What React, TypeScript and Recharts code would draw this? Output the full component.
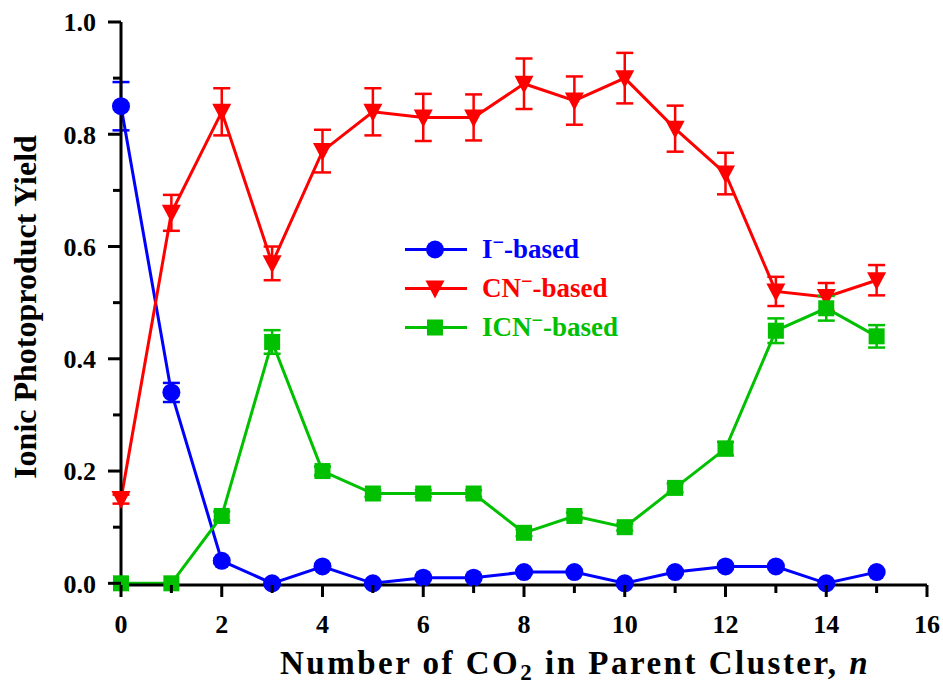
import { LineChart, Line, XAxis, YAxis, ErrorBar, Legend, Label } from "recharts";

const nValues = [0, 1, 2, 3, 4, 5, 6, 7, 8, 9, 10, 11, 12, 13, 14, 15];
const iBased = [0.85, 0.34, 0.04, 0.0, 0.03, 0.0, 0.01, 0.01, 0.02, 0.02, 0.0, 0.02, 0.03, 0.03, 0.0, 0.02];
const iErr = [0.043, 0.017, 0.004, 0.003, 0.004, 0.003, 0.003, 0.003, 0.003, 0.003, 0.003, 0.003, 0.003, 0.003, 0.003, 0.003];
const cnBased = [0.15, 0.66, 0.84, 0.57, 0.77, 0.84, 0.83, 0.83, 0.89, 0.86, 0.9, 0.81, 0.73, 0.52, 0.51, 0.54];
const cnErr = [0.008, 0.032, 0.042, 0.03, 0.038, 0.042, 0.042, 0.041, 0.045, 0.043, 0.045, 0.041, 0.037, 0.026, 0.025, 0.027];
const icnBased = [0, 0, 0.12, 0.43, 0.2, 0.16, 0.16, 0.16, 0.09, 0.12, 0.1, 0.17, 0.24, 0.45, 0.49, 0.44];
const icnErr = [0, 0, 0.008, 0.021, 0.008, 0.006, 0.006, 0.006, 0.006, 0.006, 0.006, 0.008, 0.012, 0.022, 0.022, 0.02];

const xTicks = [0, 1, 2, 3, 4, 5, 6, 7, 8, 9, 10, 11, 12, 13, 14, 15, 16];
const yTicks = [0, 0.1, 0.2, 0.3, 0.4, 0.5, 0.6, 0.7, 0.8, 0.9, 1.0];

const BLUE = "#0000ff";
const RED = "#ff0000";
const GREEN = "#00c000";
const FONT = '"Liberation Serif", "Times New Roman", serif';

const data = nValues.map((n, i) => ({
  n,
  iBased: iBased[i],
  iErr: iErr[i],
  cnBased: cnBased[i],
  cnErr: cnErr[i],
  icnBased: icnBased[i],
  icnErr: icnErr[i],
}));

function marker(kind: string, cx: number, cy: number, color: string, key?: any) {
  if (kind === "circle") return <circle key={key} cx={cx} cy={cy} r={9} fill={color} />;
  if (kind === "tri")
    return (
      <polygon
        key={key}
        points={`${cx - 9.5},${cy - 8} ${cx + 9.5},${cy - 8} ${cx},${cy + 10}`}
        fill={color}
      />
    );
  return <rect key={key} x={cx - 8} y={cy - 8} width={16} height={16} fill={color} />;
}

const dotFor = (kind: string, color: string) => (p: any) =>
  marker(kind, p.cx, p.cy, color, `${kind}-${p.index}`);

const XTick = (props: any) => {
  const { x, y, payload } = props;
  const v = payload.value;
  const major = v % 2 === 0;
  return (
    <g>
      <line x1={x} x2={x} y1={y} y2={y + (major ? 12 : 8)} stroke="#000" strokeWidth={3} />
      {major && (
        <text x={x} y={y + 48} textAnchor="middle" fontFamily={FONT} fontWeight="bold" fontSize={26} fill="#000">
          {v}
        </text>
      )}
    </g>
  );
};

const YTick = (props: any) => {
  const { x, y, payload } = props;
  const v = payload.value;
  const major = Math.round(v * 10) % 2 === 0;
  return (
    <g>
      <line x1={x - (major ? 13 : 8)} x2={x} y1={y} y2={y} stroke="#000" strokeWidth={3} />
      {major && (
        <text x={x - 25} y={y} dy="0.36em" textAnchor="end" fontFamily={FONT} fontWeight="bold" fontSize={26} fill="#000">
          {v.toFixed(1)}
        </text>
      )}
    </g>
  );
};

const legendRows = [
  { kind: "circle", color: BLUE, base: "I" },
  { kind: "tri", color: RED, base: "CN" },
  { kind: "square", color: GREEN, base: "ICN" },
];

const renderLegend = () => (
  <div>
    {legendRows.map((r) => (
      <div key={r.base} style={{ display: "flex", alignItems: "center", height: 39 }}>
        <svg width={62} height={39}>
          <line x1={0} x2={62} y1={19.5} y2={19.5} stroke={r.color} strokeWidth={3} />
          {marker(r.kind, 30, 19.5, r.color)}
        </svg>
        <span
          style={{
            marginLeft: 15,
            fontFamily: FONT,
            fontWeight: "bold",
            fontSize: 27,
            color: r.color,
            lineHeight: "39px",
          }}
        >
          {r.base}
          <span style={{ fontSize: "0.75em", verticalAlign: "0.45em", lineHeight: 0 }}>−</span>-based
        </span>
      </div>
    ))}
  </div>
);

const XTitle = (props: any) => {
  const vb = props.viewBox;
  return (
    <text x={280} y={vb.y + 89} fontFamily={FONT} fontWeight="bold" fontSize={33} letterSpacing={2.5} fill="#000">
      Number of CO
      <tspan fontSize={23} dy={6}>2</tspan>
      <tspan dy={-6}> in Parent Cluster, </tspan>
      <tspan fontStyle="italic">n</tspan>
    </text>
  );
};

const YTitle = () => (
  <text
    x={36}
    y={307}
    transform="rotate(-90 36 307)"
    textAnchor="middle"
    fontFamily={FONT}
    fontWeight="bold"
    fontSize={32}
    fill="#000"
  >
    Ionic Photoproduct Yield
  </text>
);

export default function App() {
  return (
    <div style={{ position: "absolute", left: 0, top: 0, width: 943, height: 688, background: "#fff" }}>
      <LineChart width={943} height={688} data={data} margin={{ top: 22, right: 16, bottom: 0, left: 0 }}>
        <XAxis
          dataKey="n"
          type="number"
          domain={[0, 16]}
          ticks={xTicks}
          interval={0}
          height={103}
          tickSize={0}
          tickMargin={0}
          tickLine={false}
          tick={<XTick />}
          axisLine={{ stroke: "#000", strokeWidth: 3 }}
        >
          <Label content={<XTitle />} />
        </XAxis>
        <XAxis
          xAxisId="top"
          orientation="top"
          type="number"
          domain={[0, 16]}
          height={0}
          tick={false}
          tickLine={false}
          axisLine={{ stroke: "#000", strokeWidth: 3 }}
        />
        <YAxis
          type="number"
          domain={[0, 1]}
          ticks={yTicks}
          interval={0}
          width={121}
          tickSize={0}
          tickMargin={0}
          tickLine={false}
          tick={<YTick />}
          axisLine={{ stroke: "#000", strokeWidth: 3 }}
        >
          <Label content={<YTitle />} />
        </YAxis>
        <YAxis
          yAxisId="right"
          orientation="right"
          type="number"
          domain={[0, 1]}
          width={0}
          tick={false}
          tickLine={false}
          axisLine={{ stroke: "#000", strokeWidth: 3 }}
        />
        <Legend
          layout="vertical"
          align="center"
          verticalAlign="middle"
          content={renderLegend}
          wrapperStyle={{ left: 405, top: 230, width: 260 }}
        />
        <Line
          dataKey="iBased"
          stroke={BLUE}
          strokeWidth={3}
          dot={dotFor("circle", BLUE)}
          activeDot={false}
          isAnimationActive={false}
        >
          <ErrorBar dataKey="iErr" direction="y" width={8.5} stroke={BLUE} strokeWidth={2.5} isAnimationActive={false} />
        </Line>
        <Line
          dataKey="cnBased"
          stroke={RED}
          strokeWidth={3}
          dot={dotFor("tri", RED)}
          activeDot={false}
          isAnimationActive={false}
        >
          <ErrorBar dataKey="cnErr" direction="y" width={8.5} stroke={RED} strokeWidth={2.5} isAnimationActive={false} />
        </Line>
        <Line
          dataKey="icnBased"
          stroke={GREEN}
          strokeWidth={3}
          dot={dotFor("square", GREEN)}
          activeDot={false}
          isAnimationActive={false}
        >
          <ErrorBar dataKey="icnErr" direction="y" width={8.5} stroke={GREEN} strokeWidth={2.5} isAnimationActive={false} />
        </Line>
      </LineChart>
    </div>
  );
}
